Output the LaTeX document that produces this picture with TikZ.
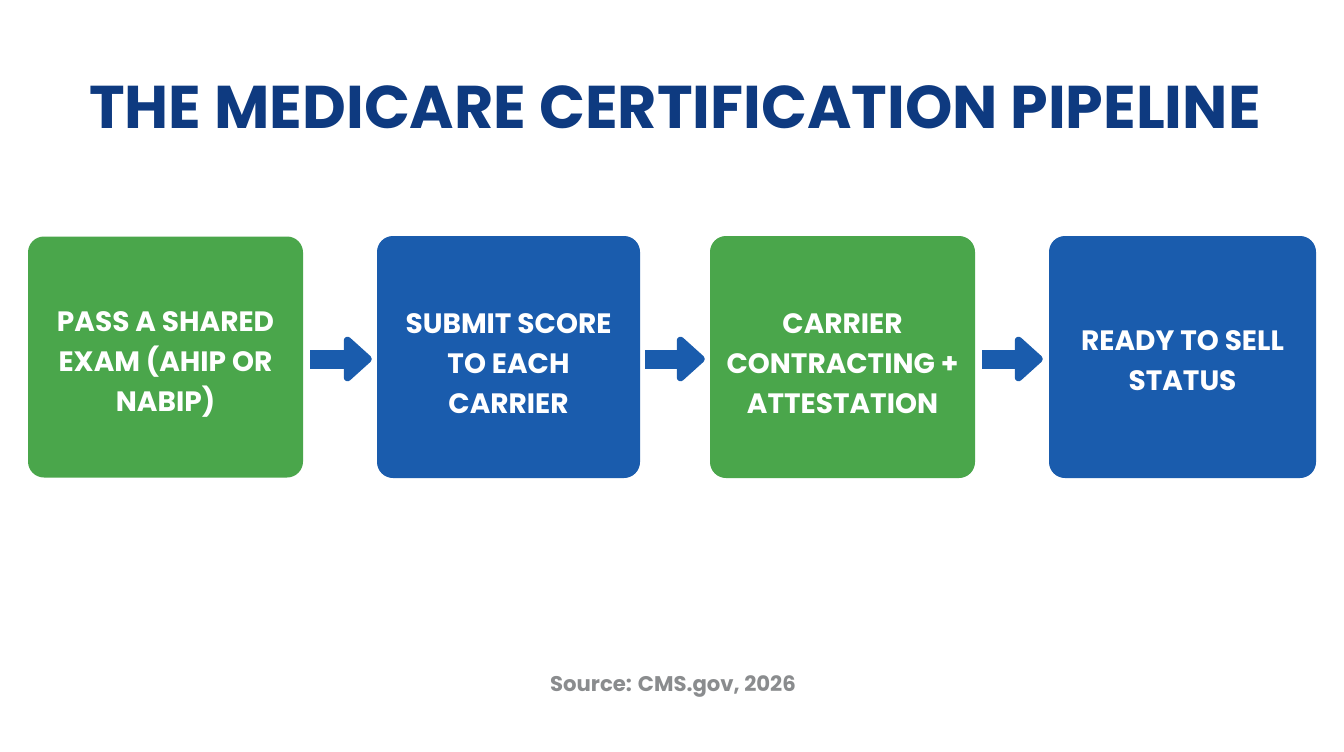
\documentclass[tikz,border=0pt]{standalone}
\usepackage{fontspec}
\setmainfont{Poppins}
\usetikzlibrary{arrows.meta}
\definecolor{boxgreen}{HTML}{4AA64B}
\definecolor{boxblue}{HTML}{1A5CAD}
\definecolor{titleblue}{HTML}{0E3A80}
\definecolor{srcgray}{HTML}{8A8C8E}
\tikzset{
  stepbox/.style={rounded corners=16pt, inner sep=0pt, text=white, align=center,
    font=\fontsize{28}{40}\selectfont\bfseries},
  greenbox/.style={stepbox, fill=boxgreen},
  bluebox/.style={stepbox, fill=boxblue},
  bigarrow/.style={draw=boxblue, line width=19pt,
    -{Triangle[length=30pt,width=52pt,round]}},
}
\begin{document}
\begin{tikzpicture}[x=1pt,y=-1pt]
\useasboundingbox[fill=white] (0,0) rectangle (1344,752);
\node[anchor=base, text=titleblue, font=\fontsize{60.3}{70}\selectfont\bfseries] (title) at (675,128) {THE MEDICARE CERTIFICATION PIPELINE};
\node[greenbox, minimum width=275pt, minimum height=241pt] (b1) at (165.5,357) {};
\node[bluebox, minimum width=263pt, minimum height=242pt] (b2) at (508.5,357) {};
\node[greenbox, minimum width=265pt, minimum height=242pt] (b3) at (842.5,357) {};
\node[bluebox, minimum width=267pt, minimum height=242pt] (b4) at (1182.5,357) {};
\node[stepbox] (t1) at (165.5,364) {PASS A SHARED\\EXAM (AHIP OR\\NABIP)};
\node[stepbox] (t2) at (508.5,364) {SUBMIT SCORE\\TO EACH\\CARRIER};
\node[stepbox] (t3) at (842.5,364) {CARRIER\\CONTRACTING +\\ATTESTATION};
\node[stepbox] (t4) at (1182.5,361) {READY TO SELL\\STATUS};
\draw[bigarrow, shorten <=7pt, shorten >=5pt] (b1.east |- 0,359) -- (b2.west |- 0,359);
\draw[bigarrow, shorten <=5pt, shorten >=5pt] (b2.east |- 0,359) -- (b3.west |- 0,359);
\draw[bigarrow, shorten <=7pt, shorten >=6pt] (b3.east |- 0,359) -- (b4.west |- 0,359);
\node[anchor=base, text=srcgray, font=\fontsize{21.2}{26}\selectfont\bfseries] (src) at (673,691) {Source: CMS.gov, 2026};
\end{tikzpicture}
\end{document}
